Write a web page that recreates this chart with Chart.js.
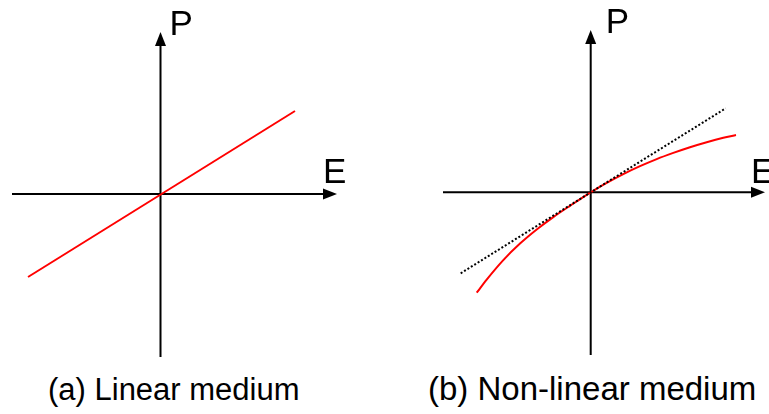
<!DOCTYPE html>
<html>
<head>
<meta charset="utf-8">
<script src="https://cdn.jsdelivr.net/npm/chart.js@4/dist/chart.umd.min.js"></script>
<style>
  html, body { margin: 0; padding: 0; background: #fff; }
  #wrap { position: relative; width: 769px; height: 414px; overflow: hidden;
          font-family: "Liberation Sans", Arial, sans-serif; color: #000; }
  canvas { position: absolute; top: 0; }
  .cap { position: absolute; white-space: nowrap; }
  #capA { left: 48px; top: 374px; font-size: 31px; line-height: 31px; }
  #capB { left: 428px; top: 372px; font-size: 33px; line-height: 33px; }
</style>
</head>
<body>
<div id="wrap">
  <canvas id="linear" width="384" height="370" style="left:0"></canvas>
  <canvas id="nonlinear" width="385" height="370" style="left:384px"></canvas>
  <div class="cap" id="capA"></div>
  <div class="cap" id="capB"></div>
</div>
<script>
// Axis names and panel captions
const axisNames = ['E', 'P'];
const captions = ['(a) Linear medium', '(b) Non-linear medium'];

// (a) linear response: P proportional to E
const linearE = [-1.325, 1.345];
const linearP = [-0.83, 0.83];

// (b) dotted reference line (the linear response, for comparison)
const refE = [-1.30, 1.35];
const refP = [-0.81, 0.84];

// (b) non-linear response curve
const nonlinE = [-1.14, -1.04, -0.874, -0.707, -0.54, -0.374, -0.207, 0, 0.16, 0.326, 0.493, 0.66, 0.826, 0.993, 1.16, 1.326, 1.453];
const nonlinP = [-1.004, -0.873, -0.678, -0.513, -0.372, -0.248, -0.135, 0, 0.094, 0.182, 0.261, 0.332, 0.394, 0.451, 0.501, 0.545, 0.573];

// Extent of the drawn E and P axes in each panel [min, max]
const axisExtentA = { E: [-1.485, 1.765], P: [-1.63, 1.62] };
const axisExtentB = { E: [-1.477, 1.743], P: [-1.627, 1.623] };

document.getElementById('capA').textContent = captions[0];
document.getElementById('capB').textContent = captions[1];

const toPoints = (xs, ys) => xs.map((v, i) => ({ x: v, y: ys[i] }));

// Draws the E and P axes through the origin, with arrowheads and letters
const axesPlugin = {
  id: 'axesArrows',
  beforeDatasetsDraw(chart, args, opts) {
    const { ctx } = chart;
    const sx = chart.scales.x, sy = chart.scales.y;
    const x0 = sx.getPixelForValue(0), y0 = sy.getPixelForValue(0);
    const xl = sx.getPixelForValue(opts.E[0]), xr = sx.getPixelForValue(opts.E[1]);
    const yb = sy.getPixelForValue(opts.P[0]), yt = sy.getPixelForValue(opts.P[1]);
    const head = 14, half = 5.5;
    ctx.save();
    ctx.strokeStyle = '#000';
    ctx.fillStyle = '#000';
    ctx.lineWidth = 2;
    ctx.lineCap = 'butt';
    ctx.beginPath();
    ctx.moveTo(xl, y0); ctx.lineTo(xr - head + 1, y0);
    ctx.moveTo(x0, yb); ctx.lineTo(x0, yt + head - 1);
    ctx.stroke();
    ctx.beginPath();
    ctx.moveTo(xr, y0); ctx.lineTo(xr - head, y0 - half); ctx.lineTo(xr - head, y0 + half); ctx.closePath();
    ctx.fill();
    ctx.beginPath();
    ctx.moveTo(x0, yt); ctx.lineTo(x0 - half, yt + head); ctx.lineTo(x0 + half, yt + head); ctx.closePath();
    ctx.fill();
    ctx.font = '35px "Liberation Sans", Arial, sans-serif';
    ctx.textBaseline = 'alphabetic';
    ctx.textAlign = 'left';
    ctx.fillText(axisNames[0], xr + opts.eDx, y0 + opts.eDy);
    ctx.fillText(axisNames[1], x0 + opts.pDx, yt + opts.pDy);
    ctx.restore();
  }
};

function makeChart(id, datasets, xr, yr, axisOpts) {
  return new Chart(document.getElementById(id), {
    type: 'scatter',
    data: { datasets },
    options: {
      responsive: false,
      animation: false,
      events: [],
      layout: { padding: 0 },
      plugins: { legend: { display: false }, tooltip: { enabled: false }, axesArrows: axisOpts },
      scales: {
        x: { type: 'linear', display: false, min: xr[0], max: xr[1] },
        y: { type: 'linear', display: false, min: yr[0], max: yr[1] }
      },
      elements: { point: { radius: 0 } }
    },
    plugins: [axesPlugin]
  });
}

makeChart('linear', [
  { data: toPoints(linearE, linearP), showLine: true, borderColor: '#ff0000', borderWidth: 2, pointRadius: 0 }
], [-1.605, 2.235], [-1.76, 1.94], Object.assign({ eDx: -14, eDy: -11, pDx: 9, pDy: 3 }, axisExtentA));

makeChart('nonlinear', [
  { data: toPoints(refE, refP), showLine: true, borderColor: '#000', borderWidth: 2, borderDash: [2, 2], pointRadius: 0 },
  { data: toPoints(nonlinE, nonlinP), showLine: true, borderColor: '#ff0000', borderWidth: 2, pointRadius: 0,
    cubicInterpolationMode: 'monotone' }
], [-2.067, 1.783], [-1.777, 1.923], Object.assign({ eDx: -14, eDy: -9, pDx: 15, pDy: 3 }, axisExtentB));
</script>
</body>
</html>
